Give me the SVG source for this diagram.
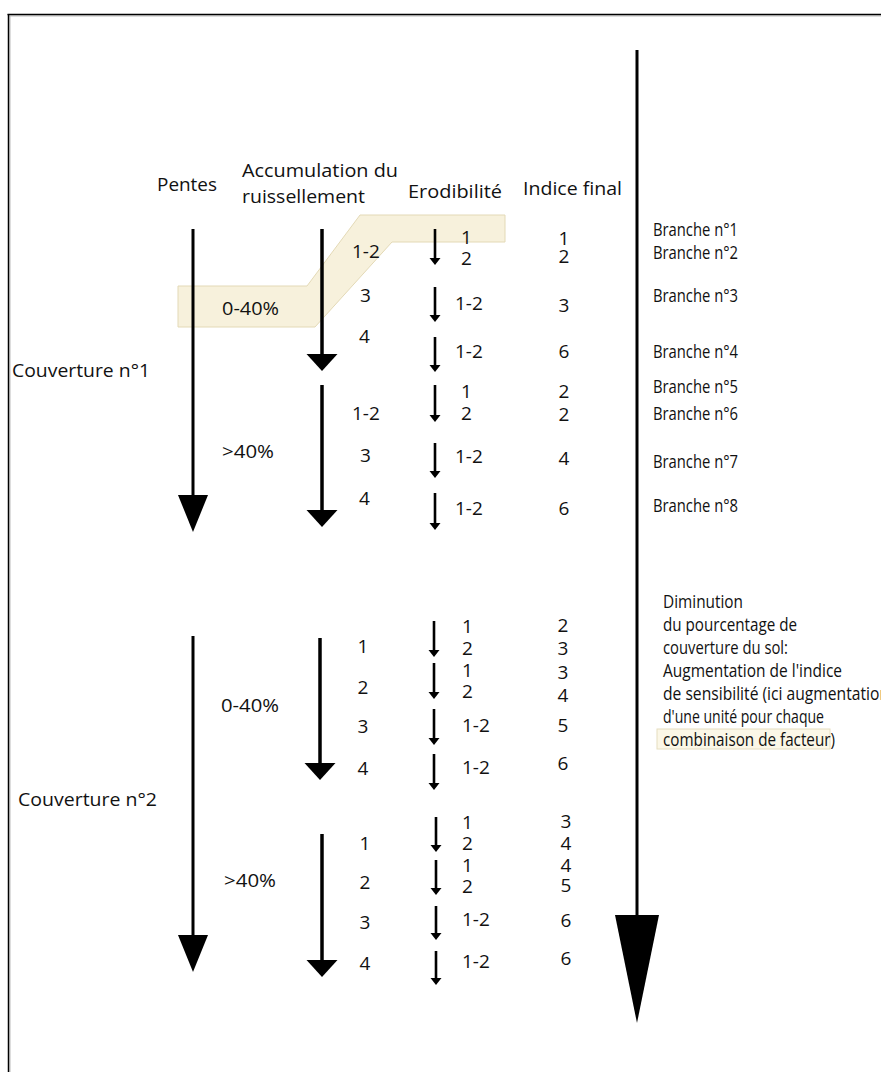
<svg xmlns="http://www.w3.org/2000/svg" width="881" height="1072" viewBox="0 0 881 1072">
<style>
text{font-family:"Open Sans","Liberation Sans",sans-serif;font-size:19px;fill:#111}
.h{font-size:19px}
.br{font-size:19px}
.rt{font-size:18px}
.m{text-anchor:middle}
.ln{stroke:#000;fill:none}
.sm{stroke-width:2.6}
.ac{stroke-width:3.5}
.pt{stroke-width:3}
</style>
<defs>
<marker id="hs" markerUnits="userSpaceOnUse" markerWidth="12" markerHeight="12" refX="0" refY="6" orient="auto" overflow="visible"><path d="M0,0.5 L7,6 L0,11.5 z" fill="#000"/></marker>
<marker id="ha" markerUnits="userSpaceOnUse" markerWidth="18" markerHeight="32" refX="0" refY="16" orient="auto" overflow="visible"><path d="M0,0.5 L17,16 L0,31.5 z" fill="#000"/></marker>
<marker id="hp" markerUnits="userSpaceOnUse" markerWidth="38" markerHeight="31" refX="0" refY="15.5" orient="auto" overflow="visible"><path d="M0,0.5 L37,15.5 L0,30.5 z" fill="#000"/></marker>
<marker id="hb" markerUnits="userSpaceOnUse" markerWidth="109" markerHeight="45" refX="0" refY="22.5" orient="auto" overflow="visible"><path d="M0,0.5 L108,22.5 L0,44.5 z" fill="#000"/></marker>
</defs>
<rect width="881" height="1072" fill="#fff"/>
<g id="frame">
<line x1="9" y1="16" x2="881" y2="16" stroke="#bbb" stroke-width="1"/>
<line x1="10" y1="16" x2="10" y2="1072" stroke="#bbb" stroke-width="1"/>
<line x1="7.5" y1="14.5" x2="881" y2="14.5" stroke="#000" stroke-width="1.5"/>
<line x1="8.5" y1="14" x2="8.5" y2="1072" stroke="#000" stroke-width="1.5"/>
</g>
<g id="highlight">
<polygon points="178,286 307,286 360,215 505,215 505,242 392,242 315,327 178,327" fill="#f7f1dc" stroke="#e3d9b6" stroke-width="1"/>
<rect x="657" y="729" width="173" height="20" fill="#fbf7e7" stroke="#e6deC0" stroke-width="1"/>
</g>
<g id="connectors">
<line class="ln pt" x1="193" y1="229" x2="193" y2="495" marker-end="url(#hp)"/>
<line class="ln pt" x1="193" y1="636" x2="193" y2="935" marker-end="url(#hp)"/>
<line class="ln ac" x1="322" y1="229" x2="322" y2="354" marker-end="url(#ha)"/>
<line class="ln ac" x1="322" y1="385" x2="322" y2="510" marker-end="url(#ha)"/>
<line class="ln ac" x1="320" y1="638" x2="320" y2="763" marker-end="url(#ha)"/>
<line class="ln ac" x1="322" y1="834" x2="322" y2="960" marker-end="url(#ha)"/>
<line class="ln pt" x1="637" y1="50" x2="637" y2="915" marker-end="url(#hb)"/>
<line class="ln sm" x1="435" y1="229" x2="435" y2="258" marker-end="url(#hs)"/>
<line class="ln sm" x1="435" y1="287" x2="435" y2="315" marker-end="url(#hs)"/>
<line class="ln sm" x1="435" y1="337" x2="435" y2="365" marker-end="url(#hs)"/>
<line class="ln sm" x1="435" y1="385" x2="435" y2="415" marker-end="url(#hs)"/>
<line class="ln sm" x1="435" y1="443" x2="435" y2="471" marker-end="url(#hs)"/>
<line class="ln sm" x1="435" y1="493" x2="435" y2="523" marker-end="url(#hs)"/>
<line class="ln sm" x1="434" y1="621" x2="434" y2="650" marker-end="url(#hs)"/>
<line class="ln sm" x1="434" y1="663" x2="434" y2="692" marker-end="url(#hs)"/>
<line class="ln sm" x1="434" y1="709" x2="434" y2="738" marker-end="url(#hs)"/>
<line class="ln sm" x1="434" y1="754" x2="434" y2="783" marker-end="url(#hs)"/>
<line class="ln sm" x1="436" y1="817" x2="436" y2="845" marker-end="url(#hs)"/>
<line class="ln sm" x1="436" y1="860" x2="436" y2="888" marker-end="url(#hs)"/>
<line class="ln sm" x1="436" y1="906" x2="436" y2="933" marker-end="url(#hs)"/>
<line class="ln sm" x1="436" y1="951" x2="436" y2="978" marker-end="url(#hs)"/>
</g>
<g id="headers">
<text class="h" x="157" y="191" textLength="60" lengthAdjust="spacingAndGlyphs">Pentes</text>
<text class="h" x="242" y="177" textLength="156" lengthAdjust="spacingAndGlyphs">Accumulation du</text>
<text class="h" x="242" y="203" textLength="123" lengthAdjust="spacingAndGlyphs">ruissellement</text>
<text class="h" x="408" y="198" textLength="94" lengthAdjust="spacingAndGlyphs">Erodibilité</text>
<text class="h" x="523" y="195" textLength="99" lengthAdjust="spacingAndGlyphs">Indice final</text>
</g>
<g id="couverture1">
<text x="12" y="377" textLength="138" lengthAdjust="spacingAndGlyphs">Couverture n°1</text>
<text x="222" y="315" textLength="57" lengthAdjust="spacingAndGlyphs">0-40%</text>
<text x="222" y="458" textLength="52" lengthAdjust="spacingAndGlyphs">&gt;40%</text>
</g>
<g id="couverture2">
<text x="18" y="806" textLength="139" lengthAdjust="spacingAndGlyphs">Couverture n°2</text>
<text x="221" y="712" textLength="58" lengthAdjust="spacingAndGlyphs">0-40%</text>
<text x="224" y="887" textLength="52" lengthAdjust="spacingAndGlyphs">&gt;40%</text>
</g>
<g id="accumulation">
<text x="352" y="258">1-2</text>
<text x="360" y="302">3</text>
<text x="359" y="343">4</text>
<text x="352" y="420">1-2</text>
<text x="360" y="462">3</text>
<text x="359" y="505">4</text>
<text class="m" x="363" y="653">1</text>
<text class="m" x="363" y="694">2</text>
<text class="m" x="363" y="733">3</text>
<text class="m" x="363" y="775">4</text>
<text class="m" x="365" y="850">1</text>
<text class="m" x="365" y="889">2</text>
<text class="m" x="365" y="929">3</text>
<text class="m" x="365" y="970">4</text>
</g>
<g id="erodibilite">
<text x="461" y="244">1</text>
<text x="461" y="265">2</text>
<text x="455" y="310">1-2</text>
<text x="455" y="358">1-2</text>
<text x="461" y="398">1</text>
<text x="461" y="420">2</text>
<text x="455" y="463">1-2</text>
<text x="455" y="515">1-2</text>
<text x="462" y="633">1</text>
<text x="462" y="655">2</text>
<text x="462" y="677">1</text>
<text x="462" y="698">2</text>
<text x="462" y="732">1-2</text>
<text x="462" y="774">1-2</text>
<text x="462" y="829">1</text>
<text x="462" y="850">2</text>
<text x="462" y="872">1</text>
<text x="462" y="893">2</text>
<text x="462" y="926">1-2</text>
<text x="462" y="968">1-2</text>
</g>
<g id="indice">
<text class="m" x="564" y="245">1</text>
<text class="m" x="564" y="263">2</text>
<text class="m" x="564" y="312">3</text>
<text class="m" x="564" y="358">6</text>
<text class="m" x="564" y="398">2</text>
<text class="m" x="564" y="421">2</text>
<text class="m" x="564" y="465">4</text>
<text class="m" x="564" y="515">6</text>
<text class="m" x="563" y="632">2</text>
<text class="m" x="563" y="655">3</text>
<text class="m" x="563" y="679">3</text>
<text class="m" x="563" y="702">4</text>
<text class="m" x="563" y="732">5</text>
<text class="m" x="563" y="770">6</text>
<text class="m" x="566" y="828">3</text>
<text class="m" x="566" y="850">4</text>
<text class="m" x="566" y="872">4</text>
<text class="m" x="566" y="892">5</text>
<text class="m" x="566" y="927">6</text>
<text class="m" x="566" y="965">6</text>
</g>
<g id="branches">
<text class="br" x="653" y="236" textLength="85" lengthAdjust="spacingAndGlyphs">Branche n°1</text>
<text class="br" x="653" y="259" textLength="85" lengthAdjust="spacingAndGlyphs">Branche n°2</text>
<text class="br" x="653" y="302" textLength="85" lengthAdjust="spacingAndGlyphs">Branche n°3</text>
<text class="br" x="653" y="358" textLength="85" lengthAdjust="spacingAndGlyphs">Branche n°4</text>
<text class="br" x="653" y="393" textLength="85" lengthAdjust="spacingAndGlyphs">Branche n°5</text>
<text class="br" x="653" y="420" textLength="85" lengthAdjust="spacingAndGlyphs">Branche n°6</text>
<text class="br" x="653" y="468" textLength="85" lengthAdjust="spacingAndGlyphs">Branche n°7</text>
<text class="br" x="653" y="512" textLength="85" lengthAdjust="spacingAndGlyphs">Branche n°8</text>
</g>
<g id="legende">
<text class="rt" x="663" y="608" textLength="80" lengthAdjust="spacingAndGlyphs">Diminution</text>
<text class="rt" x="663" y="631" textLength="134" lengthAdjust="spacingAndGlyphs">du pourcentage de</text>
<text class="rt" x="663" y="654" textLength="125" lengthAdjust="spacingAndGlyphs">couverture du sol:</text>
<text class="rt" x="663" y="677" textLength="179" lengthAdjust="spacingAndGlyphs">Augmentation de l'indice</text>
<text class="rt" x="663" y="700" textLength="226" lengthAdjust="spacingAndGlyphs">de sensibilité (ici augmentation</text>
<text class="rt" x="663" y="723" textLength="161" lengthAdjust="spacingAndGlyphs">d'une unité pour chaque</text>
<text class="rt" x="663" y="746" textLength="172" lengthAdjust="spacingAndGlyphs">combinaison de facteur)</text>
</g>
</svg>
